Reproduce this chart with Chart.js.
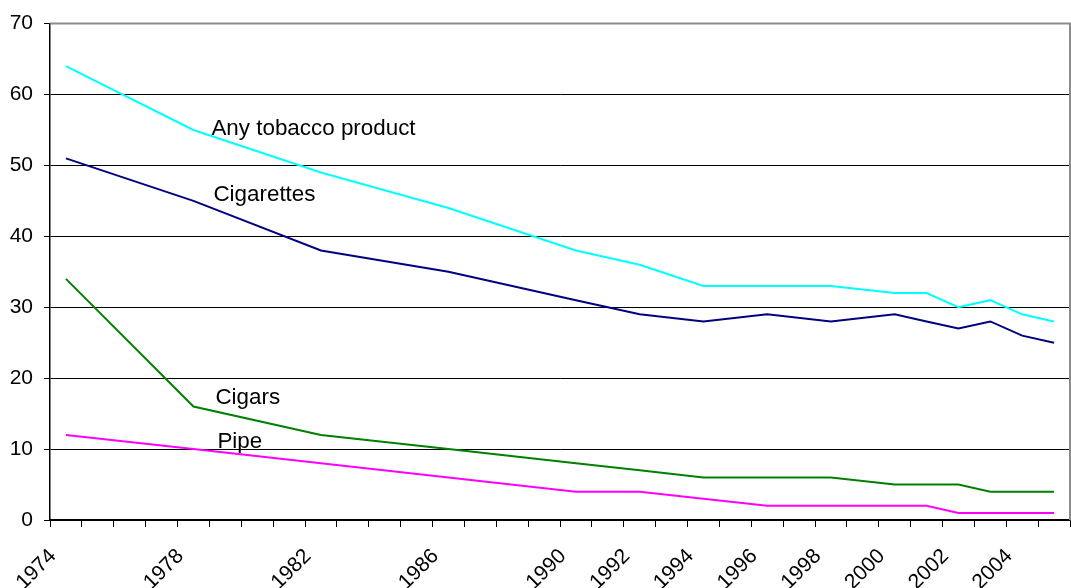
<!DOCTYPE html>
<html>
<head>
<meta charset="utf-8">
<script src="https://cdn.jsdelivr.net/npm/chart.js@4"></script>
<style>
  html, body { margin: 0; padding: 0; background: #fff; }
  #wrap { width: 1071px; height: 588px; }
</style>
</head>
<body>
<div id="wrap"><canvas id="myChart"></canvas></div>
<script>
// every year on the category axis, 1974..2005
const years = [];
for (let y = 1974; y <= 2005; y++) years.push(String(y));

// years that get a tick label
const shownYears = ['1974', '1978', '1982', '1986', '1990', '1992', '1994', '1996', '1998', '2000', '2002', '2004'];

// survey years that have values
const surveyYears = ['1974', '1978', '1982', '1986', '1990', '1992', '1994', '1996', '1998', '2000', '2001', '2002', '2003', '2004', '2005'];
const anyTobacco = [64, 55, 49, 44, 38, 36, 33, 33, 33, 32, 32, 30, 31, 29, 28];
const cigarettes = [51, 45, 38, 35, 31, 29, 28, 29, 28, 29, 28, 27, 28, 26, 25];
const cigars = [34, 16, 12, 10, 8, 7, 6, 6, 6, 5, 5, 5, 4, 4, 4];
const pipe = [12, 10, 8, 6, 4, 4, 3, 2, 2, 2, 2, 1, 1, 1, 1];

// text placed next to each line
const seriesNames = ['Any tobacco product', 'Cigarettes', 'Cigars', 'Pipe'];
const seriesColors = ['#00FFFF', '#000080', '#008000', '#FF00FF'];
const nameAt = [[4, 54.3, 18], [4, 45, 20], [4, 16.3, 22], [4, 10.1, 24]];

const toPoints = (values) => surveyYears.map((year, i) => ({ x: year, y: values[i] }));

const lineLabels = {
    id: 'lineLabels',
    afterDatasetsDraw(chart) {
        const { ctx, scales: { x, y } } = chart;
        ctx.save();
        ctx.font = '22.4px "Liberation Sans", Arial, sans-serif';
        ctx.fillStyle = '#000';
        ctx.textBaseline = 'alphabetic';
        seriesNames.forEach((name, i) => {
            const [idx, val, dx] = nameAt[i];
            ctx.fillText(name, x.getPixelForValue(idx) + dx, y.getPixelForValue(val));
        });
        ctx.restore();
    }
};

const plotFrame = {
    id: 'plotFrame',
    afterDraw(chart) {
        const { ctx, chartArea: a } = chart;
        ctx.save();
        ctx.strokeStyle = '#8c8c8c';
        ctx.lineWidth = 2;
        ctx.beginPath();
        ctx.moveTo(a.left, a.top);
        ctx.lineTo(a.right, a.top);
        ctx.lineTo(a.right, a.bottom);
        ctx.stroke();
        ctx.restore();
    }
};

const ctx = document.querySelector('#myChart');
const chart = new Chart(ctx, {
    type: 'line',
    data: {
        labels: years,
        datasets: [anyTobacco, cigarettes, cigars, pipe].map((values, i) => ({
            label: seriesNames[i],
            data: toPoints(values),
            borderColor: seriesColors[i],
            backgroundColor: seriesColors[i],
            borderWidth: 2,
            pointRadius: 0,
            tension: 0,
        })),
    },
    options: {
        responsive: true,
        maintainAspectRatio: false,
        animation: false,
        layout: {
            padding: { top: 22, right: 1, left: 10, bottom: 0 }
        },
        scales: {
            x: {
                type: 'category',
                offset: true,
                afterFit: (scale) => {
                    scale.paddingLeft = 0;
                    scale.paddingRight = 0;
                    scale.height = 68;
                },
                grid: {
                    offset: true,
                    drawOnChartArea: false,
                    tickLength: 7,
                    color: '#000',
                },
                border: { color: '#000', width: 1.5 },
                ticks: {
                    autoSkip: false,
                    maxRotation: 45,
                    minRotation: 45,
                    labelOffset: -13,
                    padding: 17,
                    color: '#000',
                    font: { family: '"Liberation Sans", Arial, sans-serif', size: 21 },
                    callback: function (value) {
                        const label = this.getLabelForValue(value);
                        return shownYears.includes(label) ? label : '';
                    }
                }
            },
            y: {
                min: 0,
                max: 70,
                afterFit: (scale) => {
                    scale.width = 40;
                },
                grid: {
                    color: (c) => (c.tick && c.tick.value === 70 ? 'rgba(0,0,0,0)' : '#000'),
                    tickColor: '#000',
                    tickLength: 6,
                    lineWidth: 1,
                },
                border: { color: '#000', width: 1.5 },
                ticks: {
                    stepSize: 10,
                    padding: 11,
                    color: '#000',
                    font: { family: '"Liberation Sans", Arial, sans-serif', size: 21 },
                }
            }
        },
        plugins: {
            legend: { display: false },
            tooltip: { enabled: false }
        }
    },
    plugins: [lineLabels, plotFrame]
});
</script>
</body>
</html>
